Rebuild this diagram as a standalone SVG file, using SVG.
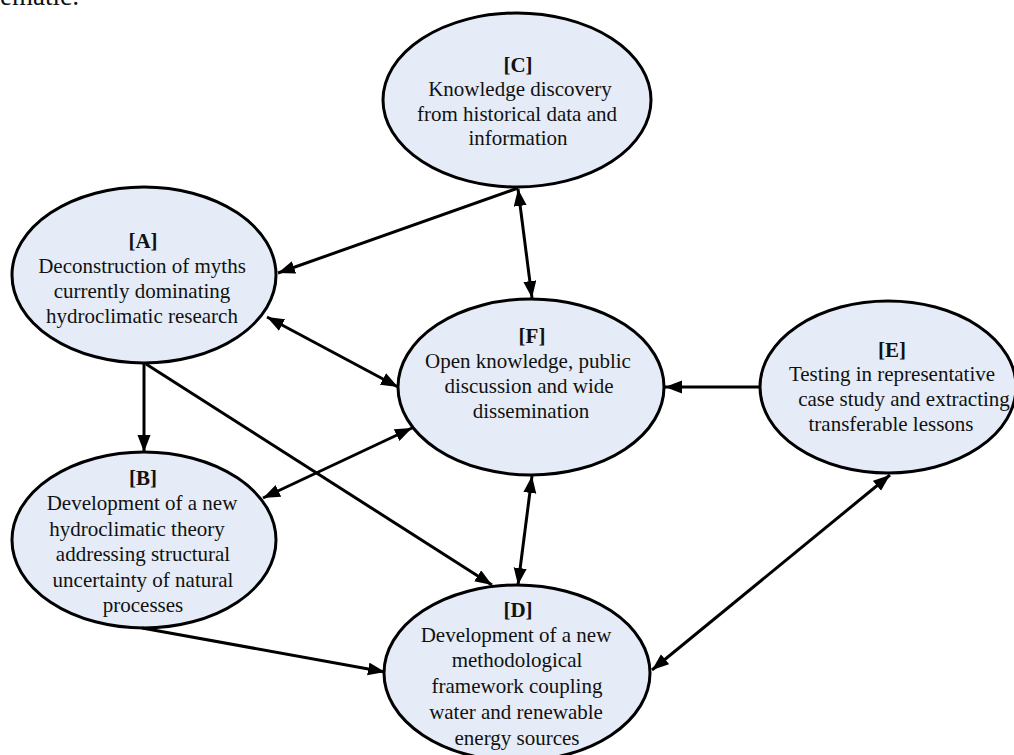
<svg xmlns="http://www.w3.org/2000/svg" width="1014" height="755" viewBox="0 0 1014 755">
  <style>
    .node ellipse { fill: #E5ECF7; stroke: #000; stroke-width: 3; }
    .node text { font-size: 21px; fill: #111; text-anchor: middle; }
    .node text.lbl { font-weight: bold; }
    .conn line { stroke: #000; stroke-width: 3; fill: none; }
    .page { font-size: 27px; fill: #111; }
  </style>
  <defs>
    <marker id="arr" markerUnits="userSpaceOnUse" markerWidth="18" markerHeight="14" refX="17" refY="6.5" orient="auto-start-reverse">
      <path d="M0,0 L17,6.5 L0,13 z" fill="#000"/>
    </marker>
  </defs>
  <rect width="1014" height="755" fill="#fff"/>
  <g font-family="Liberation Serif, DejaVu Serif, serif">
  <text class="page" x="0" y="5">ematic:</text>

  <g id="nodes">
    <g id="node-C" class="node">
      <ellipse cx="517" cy="100" rx="134" ry="87"/>
      <text class="lbl" x="518" y="72">[C]</text>
      <text x="520" y="96">Knowledge discovery</text>
      <text x="517" y="121">from historical data and</text>
      <text x="518" y="145">information</text>
    </g>
    <g id="node-A" class="node">
      <ellipse cx="144" cy="275" rx="132" ry="88"/>
      <text class="lbl" x="143" y="248">[A]</text>
      <text x="142" y="273">Deconstruction of myths</text>
      <text x="142" y="298">currently dominating</text>
      <text x="142" y="323">hydroclimatic research</text>
    </g>
    <g id="node-F" class="node">
      <ellipse cx="531" cy="387" rx="133" ry="88"/>
      <text class="lbl" x="532" y="343">[F]</text>
      <text x="528" y="368">Open knowledge, public</text>
      <text x="529" y="393">discussion and wide</text>
      <text x="531" y="418">dissemination</text>
    </g>
    <g id="node-E" class="node">
      <ellipse cx="888" cy="387" rx="128" ry="86"/>
      <text class="lbl" x="892" y="357">[E]</text>
      <text x="892" y="381">Testing in representative</text>
      <text x="904" y="406">case study and extracting</text>
      <text x="891" y="431">transferable lessons</text>
    </g>
    <g id="node-B" class="node">
      <ellipse cx="144" cy="540" rx="132" ry="88"/>
      <text class="lbl" x="143" y="485">[B]</text>
      <text x="142" y="510">Development of a new</text>
      <text x="137" y="536">hydroclimatic theory</text>
      <text x="143" y="561">addressing structural</text>
      <text x="143" y="587">uncertainty of natural</text>
      <text x="143" y="612">processes</text>
    </g>
    <g id="node-D" class="node">
      <ellipse cx="517" cy="673" rx="133" ry="88"/>
      <text class="lbl" x="518" y="617">[D]</text>
      <text x="516" y="642">Development of a new</text>
      <text x="517" y="667">methodological</text>
      <text x="517" y="693">framework coupling</text>
      <text x="516" y="719">water and renewable</text>
      <text x="517" y="745">energy sources</text>
    </g>
  </g>
  </g>

  <g id="connectors" class="conn">
    <line x1="518" y1="188" x2="278" y2="273" marker-end="url(#arr)"/>
    <line x1="518" y1="189" x2="532" y2="298" marker-start="url(#arr)" marker-end="url(#arr)"/>
    <line x1="267" y1="317" x2="398" y2="387" marker-start="url(#arr)" marker-end="url(#arr)"/>
    <line x1="144" y1="364" x2="144" y2="452" marker-end="url(#arr)"/>
    <line x1="146" y1="364" x2="492" y2="585" marker-end="url(#arr)"/>
    <line x1="263" y1="498" x2="412" y2="428" marker-start="url(#arr)" marker-end="url(#arr)"/>
    <line x1="532" y1="476" x2="518" y2="585" marker-start="url(#arr)" marker-end="url(#arr)"/>
    <line x1="760" y1="387" x2="665" y2="387" marker-end="url(#arr)"/>
    <line x1="890" y1="475" x2="652" y2="670" marker-start="url(#arr)" marker-end="url(#arr)"/>
    <line x1="142" y1="628" x2="385" y2="672" marker-end="url(#arr)"/>
  </g>
</svg>
